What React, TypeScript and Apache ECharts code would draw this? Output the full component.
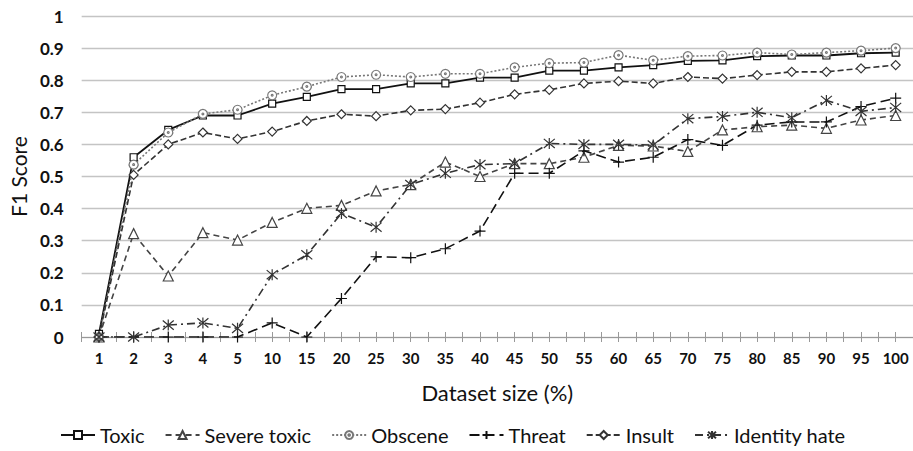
import React, { useEffect, useRef } from "react";
import * as echarts from "echarts";

const categories = ["1","2","3","4","5","10","15","20","25","30","35","40","45","50","55","60","65","70","75","80","85","90","95","100"];
const toxic = [0.01,0.56,0.645,0.69,0.69,0.727,0.748,0.772,0.772,0.79,0.79,0.808,0.808,0.83,0.83,0.84,0.847,0.86,0.862,0.875,0.877,0.877,0.884,0.886];
const severeToxic = [0,0.322,0.19,0.325,0.302,0.357,0.401,0.41,0.455,0.475,0.545,0.5,0.54,0.54,0.56,0.597,0.595,0.578,0.645,0.655,0.66,0.65,0.676,0.69];
const obscene = [0,0.537,0.637,0.695,0.708,0.753,0.78,0.81,0.817,0.81,0.82,0.82,0.84,0.853,0.855,0.878,0.862,0.875,0.877,0.886,0.88,0.886,0.892,0.9];
const threat = [0,0,0,0,0,0.044,0,0.12,0.25,0.247,0.275,0.33,0.51,0.51,0.58,0.545,0.56,0.615,0.597,0.66,0.67,0.67,0.718,0.744];
const insult = [0,0.505,0.6,0.637,0.617,0.64,0.673,0.694,0.688,0.706,0.71,0.73,0.756,0.77,0.79,0.797,0.79,0.81,0.805,0.816,0.826,0.826,0.837,0.847];
const identityHate = [0,0,0.037,0.044,0.027,0.194,0.256,0.385,0.342,0.475,0.51,0.537,0.54,0.603,0.6,0.6,0.598,0.68,0.687,0.7,0.683,0.737,0.703,0.715];
const yTicks = [0, 0.1, 0.2, 0.3, 0.4, 0.5, 0.6, 0.7, 0.8, 0.9, 1];

const PLUS = "path://M0 5 L10 5 M5 0 L5 10";
const STAR = "path://M0 0 L10 10 M10 0 L0 10 M5 -1 L5 11";
const CIRC = "path://M5 0 A5 5 0 1 1 4.99 0 Z M5 4 A1 1 0 1 1 4.99 4 Z";

export default function App() {
  const ref = useRef<HTMLDivElement>(null);
  useEffect(() => {
    const chart = echarts.init(ref.current!, undefined, { renderer: "svg" });
    const mk = (name: string, data: number[], color: string, type: any, symbol: string, size: number, width = 1.6) => ({
      name,
      type: "line",
      data,
      symbol,
      symbolSize: size,
      lineStyle: { color, width, type },
      itemStyle: { color: "#fff", borderColor: color, borderWidth: 1.2 },
      emphasis: { disabled: true },
    });
    const tickAxis = (align: boolean, inside: boolean) => ({
      type: "category",
      data: categories,
      position: "bottom",
      boundaryGap: true,
      axisLine: { show: false },
      axisLabel: { show: false },
      axisTick: { show: true, alignWithLabel: align, inside, length: 5, interval: 0, lineStyle: { color: "#999", width: 1 } },
      splitLine: { show: false },
    });
    chart.setOption({
      animation: false,
      backgroundColor: "#fff",
      grid: { left: 80, right: 0, top: 16, bottom: 114, containLabel: false },
      xAxis: [
        {
          type: "category",
          data: categories,
          position: "bottom",
          boundaryGap: true,
          name: "Dataset size (%)",
          nameLocation: "middle",
          nameGap: 44,
          nameTextStyle: { fontFamily: "Lato", fontSize: 22, color: "#111" },
          axisLine: { show: true, lineStyle: { color: "#999", width: 1.2 } },
          axisTick: { show: true, alignWithLabel: false, length: 5, interval: 0, lineStyle: { color: "#999" } },
          axisLabel: { interval: 0, fontFamily: "Lato", fontWeight: "bold", fontSize: 15, color: "#111", margin: 13 },
        },
        tickAxis(true, false),
        tickAxis(false, true),
        tickAxis(true, true),
      ],
      yAxis: {
        type: "value",
        min: 0,
        max: 1,
        interval: 0.1,
        name: "F1 Score",
        nameLocation: "middle",
        nameGap: 52,
        nameTextStyle: { fontFamily: "Lato", fontSize: 21, color: "#111" },
        axisLine: { show: false },
        axisTick: { show: false },
        axisLabel: {
          fontFamily: "Lato", fontWeight: "bold", fontSize: 17, color: "#111", margin: 18,
          formatter: (v: number) => {
            const t = yTicks.find((x) => Math.abs(x - v) < 1e-6);
            return t === undefined ? "" : String(t);
          },
        },
        splitLine: { show: true, lineStyle: { color: "#c4c4c4", width: 1.3 } },
      },
      legend: {
        top: 424,
        left: 60,
        padding: 0,
        itemWidth: 34,
        itemHeight: 10,
        itemGap: 20,
        textStyle: { fontFamily: "Lato", fontSize: 20, lineHeight: 22, color: "#111" },
        data: ["Toxic", "Severe toxic", "Obscene", "Threat", "Insult", "Identity hate"],
      },
      series: [
        mk("Toxic", toxic, "#111", "solid", "rect", 7, 1.8),
        mk("Severe toxic", severeToxic, "#444", [6, 4], "triangle", 10),
        mk("Obscene", obscene, "#777", [2, 2], CIRC, 9),
        mk("Threat", threat, "#111", [10, 5], PLUS, 11),
        mk("Insult", insult, "#333", [6, 3], "diamond", 9),
        mk("Identity hate", identityHate, "#333", [8, 4, 2, 4], STAR, 11),
      ],
    });
    return () => chart.dispose();
  }, []);
  return <div ref={ref} style={{ position: "fixed", left: 0, top: 0, width: 913, height: 451 }} />;
}
